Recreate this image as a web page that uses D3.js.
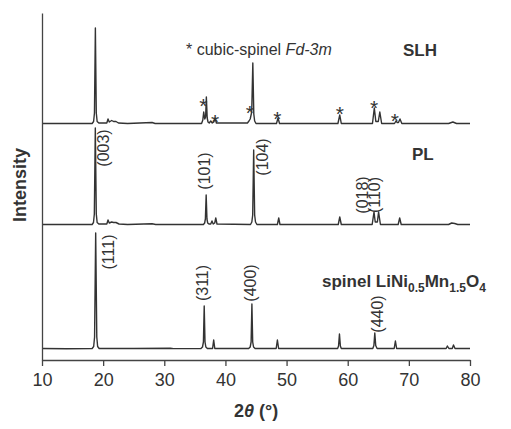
<!DOCTYPE html>
<html><head><meta charset="utf-8">
<script src="https://cdn.jsdelivr.net/npm/d3@7"></script>
<style>body{margin:0;background:#fff}svg{display:block}text{font-family:"Liberation Sans",Arial,sans-serif}</style>
</head><body>
<svg id="c" width="511" height="429"></svg>
<script>
// ---- data ----
const xTicks = [10, 20, 30, 40, 50, 60, 70, 80];
const seriesNames = ["spinel", "PL", "SLH"];
const seriesOffsets = [11, 135, 236]; // a.u. vertical stacking offsets
const spinelPattern = [[10,0.5],[14,0.3],[18.2,0.5],[18.45,2.5],[18.6,12],[18.78,116],[18.96,12],[19.1,2.5],[19.35,0.5],[25,0.5],[31,0.8],[31.5,0.4],[36.0,0.5],[36.25,2],[36.4,7],[36.53,43],[36.66,7],[36.8,2],[37.05,0.5],[37.9,0.5],[38.08,9],[38.26,0.5],[43.8,0.5],[44.05,2],[44.2,7],[44.33,45],[44.46,7],[44.6,2],[44.85,0.5],[48.3,0.5],[48.5,9],[48.7,0.5],[58.35,0.5],[58.5,3],[58.65,15],[58.8,3],[58.95,0.5],[64.1,0.5],[64.28,3.5],[64.43,16],[64.58,3.5],[64.8,0.5],[67.6,0.5],[67.8,8],[68.0,0.5],[76.1,0.5],[76.3,3],[76.55,0.5],[77.1,0.5],[77.3,4],[77.55,0.5],[80,0.5]];
const plPattern = [[10,0.5],[18.2,0.5],[18.42,2.5],[18.56,11],[18.72,97],[18.88,11],[19.02,2.5],[19.3,1],[20.6,1],[20.8,5],[21.0,2],[21.4,3],[21.7,2.5],[22.1,2.5],[22.6,1],[24,0.5],[28,1.2],[28.6,0.5],[36.4,0.5],[36.6,2],[36.72,6],[36.85,30],[36.98,6],[37.1,2],[37.3,1],[37.6,1],[37.8,4],[38.0,1],[38.25,2],[38.42,7],[38.62,1],[44.1,0.5],[44.32,3],[44.46,10],[44.62,75],[44.78,10],[44.92,3],[45.15,0.5],[48.5,0.5],[48.72,7],[48.92,0.5],[58.45,0.5],[58.7,8],[58.95,0.5],[64.0,0.5],[64.3,13],[64.5,3],[64.85,3],[65.05,13],[65.35,0.5],[68.25,0.5],[68.5,7],[68.75,0.5],[76.5,0.5],[77.0,2],[77.5,1.5],[78,0.5],[80,0.5]];
const slhPattern = [[10,0.5],[18.2,0.5],[18.44,2.5],[18.58,11],[18.73,96],[18.88,11],[19.02,2.5],[19.3,1],[20.6,1],[20.8,5],[21.0,2],[21.4,3.5],[21.7,2.5],[22.1,2.5],[22.5,1],[24,0.5],[28,1.5],[28.5,0.5],[36.1,0.5],[36.3,4],[36.45,12],[36.62,5],[36.76,7],[36.88,27],[37.02,6],[37.15,2],[37.35,1],[37.6,3],[37.85,1],[38.1,2],[38.3,6],[38.52,1],[43.6,1],[43.85,3],[44.05,5],[44.3,12],[44.48,61],[44.64,10],[44.78,3],[45.0,0.5],[48.35,0.5],[48.6,6],[48.85,0.5],[58.4,0.5],[58.7,9],[58.95,0.5],[64.05,0.5],[64.35,16],[64.6,2.5],[65.0,2.5],[65.25,12],[65.55,0.5],[67.65,0.5],[67.9,3],[68.1,1.5],[68.3,1.5],[68.55,5],[68.85,0.5],[76.5,0.5],[77.2,2],[77.8,0.5],[80,0.5]];
const patterns = [spinelPattern, plPattern, slhPattern];
// cubic spinel marks on SLH: angle and height (a.u. above SLH baseline)
const starAngles = [36.4, 38.3, 44.0, 48.5, 58.7, 64.3, 67.7];
const starLevels = [23, 7, 16, 10, 15, 21, 8];
// hkl labels: text, series index, angle, height (a.u. above that series baseline)
const hklText   = ["(003)", "(101)", "(104)", "(018)", "(110)", "(111)", "(311)", "(400)", "(440)"];
const hklSeries = [1, 1, 1, 1, 1, 0, 0, 0, 0];
const hklAngle  = [20.2, 36.6, 46.1, 62.55, 64.45, 20.9, 36.4, 44.2, 65.0];
const hklLevel  = [77, 54, 68, 30, 30, 97, 66, 66, 35];

// ---- chart ----
const svg = d3.select("#c");
const x = d3.scaleLinear().domain([10, 80]).range([42, 470]);
const y = d3.scaleLinear().domain([0, 347]).range([360, 13]);
const ink = "#333";

const line = d3.line().x(d => x(d[0])).y(d => y(d[1]));
patterns.forEach((p, i) => {
  svg.append("path")
    .datum(p.map(d => [d[0], d[1] + seriesOffsets[i]]))
    .attr("d", line).attr("fill", "none").attr("stroke", ink)
    .attr("stroke-width", 1.4).attr("stroke-linejoin", "round");
});

const xAxis = svg.append("g").attr("transform", `translate(0,${y(0)})`)
  .call(d3.axisBottom(x).tickValues(xTicks).tickSize(6).tickSizeOuter(0).tickPadding(7));
xAxis.selectAll("path,line").attr("stroke", "#444").attr("stroke-width", 1.3);
xAxis.selectAll("text").attr("font-size", 18).attr("fill", "#333")
  .attr("font-family", "Liberation Sans, Arial, sans-serif");

const yAxis = svg.append("g").attr("transform", `translate(${x(10)},0)`)
  .call(d3.axisLeft(y).tickValues([]).tickSizeOuter(0));
yAxis.selectAll("path").attr("stroke", "#444").attr("stroke-width", 1.3);

// axis titles
const xt = svg.append("text").attr("x", 256).attr("y", 417).attr("text-anchor", "middle")
  .attr("font-size", 18).attr("font-weight", "bold").attr("fill", "#333");
xt.append("tspan").text("2");
xt.append("tspan").attr("font-style", "italic").text("θ");
xt.append("tspan").text(" (°)");

svg.append("text").attr("transform", `translate(26,185) rotate(-90)`)
  .attr("text-anchor", "middle").attr("font-size", 18).attr("font-weight", "bold")
  .attr("fill", "#333").text("Intensity");

// stars
const slhOff = seriesOffsets[2];
svg.selectAll("text.star").data(starAngles).join("text").attr("class", "star")
  .attr("x", d => x(d)).attr("y", (d, i) => y(starLevels[i] + slhOff) + 12)
  .attr("text-anchor", "middle").attr("font-size", 21).attr("fill", "#333").text("*");

// hkl labels
svg.selectAll("text.hkl").data(hklText).join("text").attr("class", "hkl")
  .attr("transform", (d, i) => `translate(${x(hklAngle[i]) + 5},${y(hklLevel[i] + seriesOffsets[hklSeries[i]])}) rotate(-90)`)
  .attr("text-anchor", "middle").attr("font-size", 16).attr("fill", "#333").text(d => d);

// annotations
const leg = svg.append("text").attr("x", 186).attr("y", 55).attr("font-size", 16).attr("fill", "#333");
leg.append("tspan").text("* cubic-spinel ");
leg.append("tspan").attr("font-style", "italic").text("Fd-3m");

svg.append("text").attr("x", 403).attr("y", 56).attr("font-size", 17).attr("font-weight", "bold").attr("fill", "#333").text("SLH");
svg.append("text").attr("x", 412).attr("y", 160).attr("font-size", 17).attr("font-weight", "bold").attr("fill", "#333").text("PL");

const sp = svg.append("text").attr("x", 322).attr("y", 287).attr("font-size", 17).attr("font-weight", "bold").attr("fill", "#333");
sp.append("tspan").text("spinel LiNi");
sp.append("tspan").attr("font-size", 12).attr("dy", 5).text("0.5");
sp.append("tspan").attr("dy", -5).text("Mn");
sp.append("tspan").attr("font-size", 12).attr("dy", 5).text("1.5");
sp.append("tspan").attr("dy", -5).text("O");
sp.append("tspan").attr("font-size", 12).attr("dy", 5).text("4");
</script>
</body></html>
